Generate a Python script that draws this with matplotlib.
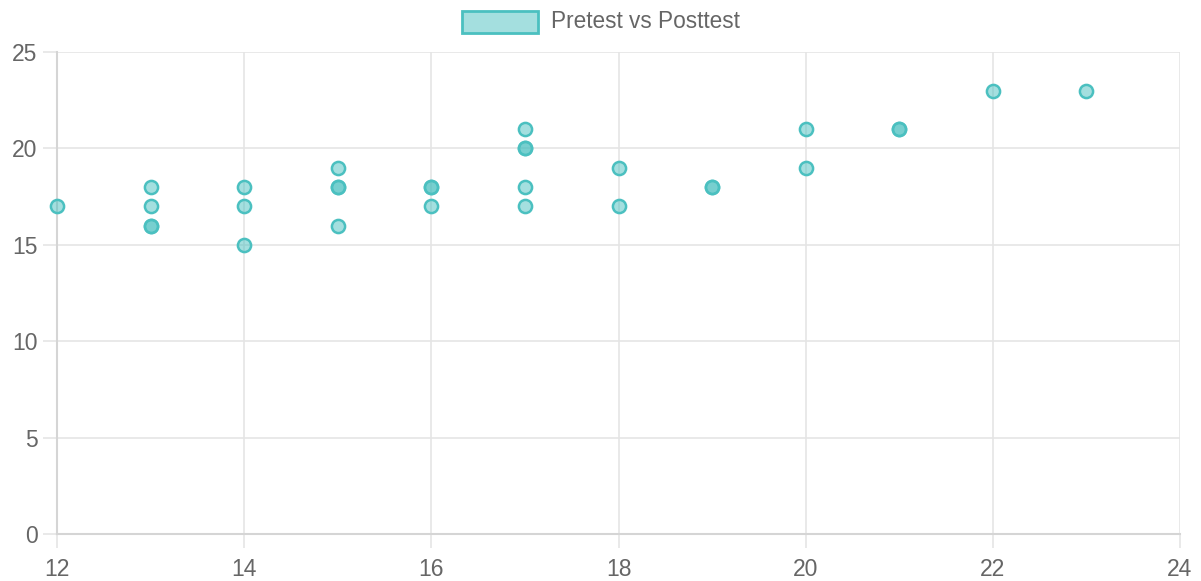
import matplotlib.pyplot as plt
from matplotlib.patches import Rectangle

plt.rcParams['font.family'] = ['Liberation Sans', 'DejaVu Sans']

pretest = [12, 13, 13, 13, 13, 14, 14, 14, 15, 15, 15, 15, 16, 16, 16,
           17, 17, 17, 17, 17, 18, 18, 19, 19, 20, 20, 21, 21, 22, 23]
posttest = [17, 18, 17, 16, 16, 18, 17, 15, 19, 18, 18, 16, 18, 18, 17,
            21, 20, 20, 18, 17, 19, 17, 18, 18, 21, 19, 21, 21, 23, 23]
label = "Pretest vs Posttest"

x_ticks = [12, 14, 16, 18, 20, 22, 24]
y_ticks = [0, 5, 10, 15, 20, 25]

teal = (75 / 255, 192 / 255, 192 / 255)
fill = teal + (0.5,)
grid_c = "#e5e5e5"
text_c = "#666666"

W, H = 1201, 581
fig = plt.figure(figsize=(W / 100, H / 100), dpi=100)
left, right, top, bottom = 57, 1180, 52, 534
ax = fig.add_axes([left / W, (H - bottom) / H, (right - left) / W, (bottom - top) / H])

ax.scatter(pretest, posttest, s=90, facecolor=fill, edgecolor=teal,
           linewidth=1.8, zorder=3, clip_on=False)

ax.set_xlim(12, 24)
ax.set_ylim(0, 25)
ax.set_xticks(x_ticks)
ax.set_yticks(y_ticks)
ax.grid(True, color=grid_c, linewidth=1.2)
for s in ["top", "right"]:
    ax.spines[s].set_visible(False)
for s in ["left", "bottom"]:
    ax.spines[s].set_color("#d5d5d5")
    ax.spines[s].set_linewidth(1.5)
ax.tick_params(length=10, width=1.2, color=grid_c, labelcolor=text_c,
               labelsize=16.5)
ax.tick_params(axis="x", pad=7)
ax.tick_params(axis="y", pad=4)

# legend drawn like the Chart.js header
fig.patches.append(Rectangle((462 / W, (H - 33) / H), 76 / W, 22 / H,
                             transform=fig.transFigure, facecolor=fill,
                             edgecolor=teal, linewidth=2))
fig.text(551 / W, (H - 21) / H, label, color=text_c, fontsize=16.3,
         va="center", ha="left")

fig.savefig("out.png", dpi=100)
